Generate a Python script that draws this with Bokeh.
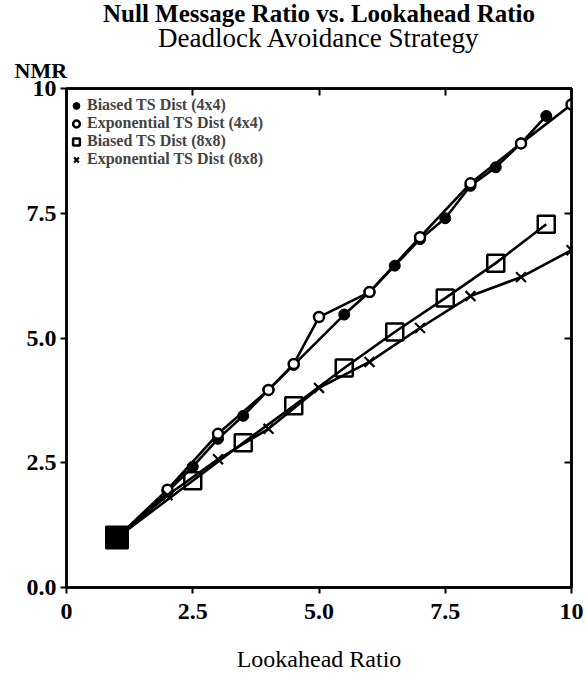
from bokeh.plotting import figure
from bokeh.models import Range1d, LinearAxis, FixedTicker, Title, Legend, LegendItem
from bokeh.embed import file_html
from bokeh.resources import INLINE

# Data
x_b44 = [1, 2, 2.5, 3, 3.5, 4, 4.5, 5.5, 6, 6.5, 7, 7.5, 8, 8.5, 9, 9.5]
y_b44 = [1, 1.92, 2.42, 2.98, 3.44, 3.96, 4.46, 5.47, 5.92, 6.45, 6.98, 7.4, 8.05, 8.42, 8.9, 9.45]

x_e44 = [1, 2, 3, 4, 4.5, 5, 6, 7, 8, 9, 10]
y_e44 = [1, 1.96, 3.08, 3.96, 4.48, 5.42, 5.92, 7.02, 8.1, 8.9, 9.68]

x_b88 = [1, 2.5, 3.5, 4.5, 5.5, 6.5, 7.5, 8.5, 9.5]
y_b88 = [1, 2.14, 2.9, 3.64, 4.4, 5.12, 5.8, 6.5, 7.28]

x_e88 = [1, 2, 3, 4, 5, 6, 7, 8, 9, 10]
y_e88 = [1, 1.85, 2.57, 3.18, 4.0, 4.52, 5.2, 5.84, 6.22, 6.76]

x_ticks = [0, 2.5, 5, 7.5, 10]
x_tick_labels = ["0", "2.5", "5.0", "7.5", "10"]
y_ticks = [0, 2.5, 5, 7.5, 10]
y_tick_labels = ["0.0", "2.5", "5.0", "7.5", "10"]

title_1 = "Null Message Ratio vs. Lookahead Ratio"
title_2 = "Deadlock Avoidance Strategy"
y_title = "NMR"
x_title = "Lookahead Ratio"
series_names = ["Biased TS Dist (4x4)", "Exponential TS Dist (4x4)",
                "Biased TS Dist (8x8)", "Exponential TS Dist (8x8)"]

FONT = "Liberation Serif"

p = figure(width=586, height=678, output_backend="svg", toolbar_location=None,
           x_range=Range1d(0, 10), y_range=Range1d(0, 10),
           x_axis_location=None, y_axis_location=None,
           min_border_left=66, min_border_right=15, min_border_top=0, min_border_bottom=91)
p.grid.visible = False
p.outline_line_color = "black"
p.outline_line_width = 2.5
p.background_fill_color = "white"
p.border_fill_color = "white"


def make_axis(kind, loc):
    ax = LinearAxis(ticker=FixedTicker(ticks=x_ticks if kind == "x" else y_ticks))
    ax.axis_line_width = 2.5
    ax.axis_line_color = "black"
    ax.major_tick_line_width = 2
    ax.major_tick_line_color = "black"
    ax.minor_tick_line_color = None
    ax.major_label_text_font = FONT
    ax.major_label_text_font_size = "24px"
    ax.major_label_text_font_style = "bold"
    ax.major_label_text_color = "black"
    if loc in ("below", "left"):
        ax.major_tick_out = 6
        ax.major_tick_in = 0
        ax.major_label_standoff = 4
        ax.major_label_overrides = dict(zip(x_ticks if kind == "x" else y_ticks,
                                            x_tick_labels if kind == "x" else y_tick_labels))
    else:
        ax.major_tick_out = 0
        ax.major_tick_in = 7
        ax.major_label_text_alpha = 0
        ax.major_label_text_font_size = "1px"
        ax.major_label_standoff = 0
    p.add_layout(ax, loc)
    return ax


xb = make_axis("x", "below")
xb.axis_label = x_title
xb.axis_label_text_font = FONT
xb.axis_label_text_font_size = "24px"
xb.axis_label_text_font_style = "normal"
xb.axis_label_text_color = "black"
xb.axis_label_standoff = 24
xb.major_label_standoff = 10
make_axis("y", "left")
make_axis("x", "above")
make_axis("y", "right")

LW = 2.6
p.line(x_b44, y_b44, line_color="black", line_width=LW)
p.line(x_e44, y_e44, line_color="black", line_width=LW)
p.line(x_b88, y_b88, line_color="black", line_width=LW)
p.line(x_e88, y_e88, line_color="black", line_width=LW)

r1 = p.scatter(x_b44, y_b44, marker="circle", size=11, fill_color="black", line_color="black")
r2 = p.scatter(x_e44, y_e44, marker="circle", size=10, fill_color="white", line_color="black", line_width=2.5)
r3 = p.scatter(x_b88, y_b88, marker="square", size=17, fill_color=None, line_color="black", line_width=2.5)
r4 = p.scatter(x_e88, y_e88, marker="x", size=14, line_color="black", line_width=2.2)
# overlapping start points form a solid blob
p.scatter(x_b88[:1], y_b88[:1], marker="square", size=22, fill_color="black", line_color="black",
          line_width=2)

legend = Legend(items=[LegendItem(label=series_names[0], renderers=[r1]),
                       LegendItem(label=series_names[1], renderers=[r2]),
                       LegendItem(label=series_names[2], renderers=[r3]),
                       LegendItem(label=series_names[3], renderers=[r4])],
                location=(1, 419))
legend.background_fill_alpha = 0
legend.border_line_color = None
legend.margin = 0
legend.padding = 4
legend.spacing = 0
legend.glyph_width = 18
legend.glyph_height = 17
legend.label_height = 17
legend.label_standoff = 2
legend.label_text_font = FONT
legend.label_text_font_size = "16px"
legend.label_text_font_style = "bold"
legend.label_text_line_height = 1.0
p.add_layout(legend)

p.add_layout(Title(text=y_title, align="left", offset=-52, standoff=11,
                   text_font=FONT, text_font_size="22px", text_font_style="bold",
                   text_color="black"), "above")
p.add_layout(Title(text=title_2, align="center", standoff=-5,
                   text_font=FONT, text_font_size="27px", text_font_style="normal",
                   text_color="black"), "above")
p.title.text = title_1
p.title.align = "center"
p.title.standoff = -6
p.title.text_font = FONT
p.title.text_font_size = "25px"
p.title.text_font_style = "bold"
p.title.text_color = "black"

open("out.html", "w").write(file_html(p, INLINE))
